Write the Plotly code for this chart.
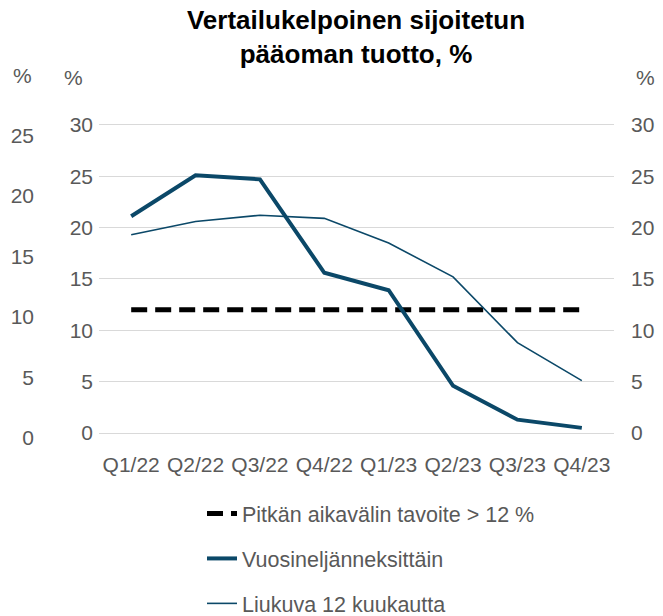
import plotly.graph_objects as go

categories = ["Q1/22", "Q2/22", "Q3/22", "Q4/22", "Q1/23", "Q2/23", "Q3/23", "Q4/23"]
target = [12, 12, 12, 12, 12, 12, 12, 12]
quarterly = [21.1, 25.1, 24.7, 15.6, 13.9, 4.6, 1.3, 0.5]
rolling12 = [19.3, 20.6, 21.2, 20.9, 18.5, 15.2, 8.8, 5.1]
main_ticks = [0, 5, 10, 15, 20, 25, 30]
outer_ticks = [0, 5, 10, 15, 20, 25]

navy = "#0B4868"
grey_txt = "#595959"
tick_font = dict(family="Liberation Sans, Arial, sans-serif", size=21, color=grey_txt)

W, H = 663, 616
ml, mr, mt, mb = 34, 49, 120, 176
plot_left = 99
dom0 = (plot_left - ml) / (W - ml - mr)

fig = go.Figure()
fig.add_trace(go.Scatter(
    x=categories, y=target, mode="lines", name="Pitkän aikavälin tavoite > 12 %",
    line=dict(color="black", width=5, dash="16px,8px"), legendgroup="a"))
fig.add_trace(go.Scatter(
    x=categories, y=quarterly, mode="lines", name="Vuosineljänneksittäin",
    line=dict(color=navy, width=4), legendgroup="b"))
fig.add_trace(go.Scatter(
    x=categories, y=rolling12, mode="lines", name="Liukuva 12 kuukautta",
    line=dict(color=navy, width=1.6), legendgroup="c"))
# invisible carriers so the secondary axes get drawn
for ya in ["y2", "y3"]:
    fig.add_trace(go.Scatter(x=categories, y=rolling12, yaxis=ya, mode="lines",
                             line=dict(width=0), opacity=0, showlegend=False,
                             hoverinfo="skip"))

# pixel mapping: main axis 0 at y=433, 10.27 px/unit; plot spans y 120..440
main_range = [(433 - 440) / 10.27, (433 - 120) / 10.27]
outer_range = [(438 - 440) / 12.1, (438 - 120) / 12.1]

def px_to_paper(px, py):
    return (px - ml) / (W - ml - mr), (H - mb - py) / (H - mt - mb)

annos = []
for (px, py) in [(22, 75), (73, 78), (645, 78)]:
    xx, yy = px_to_paper(px, py)
    annos.append(dict(text="%", x=xx, y=yy, xref="paper", yref="paper", showarrow=False,
                      xanchor="center", yanchor="middle", font=tick_font))

fig.update_layout(
    width=W, height=H,
    margin=dict(l=ml, r=mr, t=mt, b=mb, autoexpand=False),
    paper_bgcolor="white", plot_bgcolor="white",
    title=dict(text="<b>Vertailukelpoinen sijoitetun<br>pääoman tuotto, %</b>",
               x=356 / W, xref="container", xanchor="center",
               y=1 - 29 / H, yref="container", yanchor="middle",
               font=dict(family="Liberation Sans, Arial, sans-serif", size=26, color="black")),
    xaxis=dict(domain=[dom0, 1], range=[-0.5, 7.5], showgrid=False, zeroline=False,
               showline=False, ticks="", tickfont=tick_font, ticklabelstandoff=10,
               automargin=False),
    yaxis=dict(range=main_range, tickvals=main_ticks, showgrid=True, gridcolor="#d9d9d9",
               gridwidth=1.3, zeroline=False, showline=False, ticks="", tickfont=tick_font,
               ticklabelstandoff=5, automargin=False),
    yaxis2=dict(range=main_range, tickvals=main_ticks, overlaying="y", side="right",
                showgrid=False, zeroline=False, showline=False, ticks="", tickfont=tick_font,
                ticklabelstandoff=16, automargin=False),
    yaxis3=dict(range=outer_range, tickvals=outer_ticks, overlaying="y", side="left",
                anchor="free", position=0, showgrid=False, zeroline=False, showline=False,
                ticks="", tickfont=tick_font, automargin=False),
    showlegend=True,
    legend=dict(x=202 / W, xref="container", xanchor="left",
                y=1 - 493 / H, yref="container", yanchor="top",
                traceorder="grouped", tracegroupgap=14,
                font=dict(family="Liberation Sans, Arial, sans-serif", size=21.5, color=grey_txt),
                bgcolor="rgba(0,0,0,0)"),
    annotations=annos,
)

fig.write_html("out.html", config={"displayModeBar": False},
               post_script="document.body.style.margin='0';")
